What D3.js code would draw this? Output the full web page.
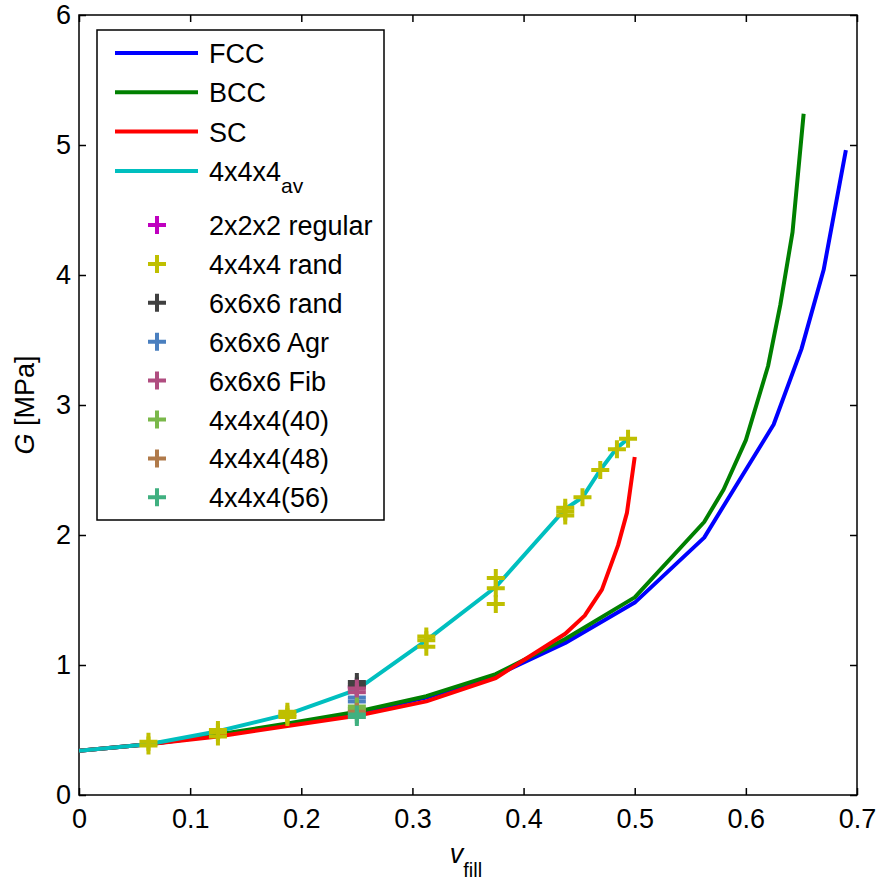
<!DOCTYPE html>
<html><head><meta charset="utf-8">
<script src="https://cdn.jsdelivr.net/npm/d3@7"></script>
<style>body{margin:0;background:#fff}svg{display:block}text{font-family:Arial,"Liberation Sans",sans-serif}</style>
</head><body><svg id="c" width="881" height="881"></svg>
<script>
// ---- data ----
const fccX = [0, 0.0625, 0.125, 0.1875, 0.25, 0.3125, 0.375, 0.4375, 0.5, 0.5625, 0.625, 0.65, 0.67, 0.69];
const fccY = [0.34, 0.39, 0.46, 0.54, 0.63, 0.75, 0.92, 1.17, 1.48, 1.98, 2.85, 3.43, 4.04, 4.96];
const bccX = [0, 0.0625, 0.125, 0.1875, 0.25, 0.3125, 0.375, 0.4375, 0.5, 0.5625, 0.58, 0.6, 0.62, 0.631, 0.642, 0.652];
const bccY = [0.34, 0.39, 0.465, 0.55, 0.64, 0.76, 0.93, 1.2, 1.52, 2.1, 2.35, 2.73, 3.3, 3.77, 4.33, 5.24];
const scX = [0, 0.0625, 0.125, 0.1875, 0.25, 0.3125, 0.375, 0.4375, 0.455, 0.4705, 0.485, 0.493, 0.5];
const scY = [0.34, 0.39, 0.45, 0.53, 0.61, 0.72, 0.9, 1.24, 1.38, 1.58, 1.92, 2.17, 2.6];
const avX = [0, 0.0625, 0.125, 0.1875, 0.25, 0.3125, 0.375, 0.4375, 0.453, 0.469, 0.484, 0.494];
const avY = [0.34, 0.39, 0.49, 0.62, 0.81, 1.19, 1.6, 2.2, 2.29, 2.5, 2.67, 2.74];

const regX = [0.25];
const regY = [0.83];
const randX = [0.0625, 0.0625, 0.125, 0.125, 0.125, 0.1875, 0.1875, 0.1875, 0.3125, 0.3125, 0.3125, 0.375, 0.375, 0.375, 0.4375, 0.4375, 0.4375, 0.453, 0.469, 0.484, 0.494];
const randY = [0.41, 0.38, 0.48, 0.45, 0.5, 0.64, 0.6, 0.62, 1.22, 1.14, 1.19, 1.67, 1.59, 1.47, 2.21, 2.18, 2.15, 2.29, 2.5, 2.66, 2.74];
const r6X = [0.25, 0.25];
const r6Y = [0.87, 0.84];
const agrX = [0.25, 0.25];
const agrY = [0.75, 0.72];
const fibX = [0.25, 0.25];
const fibY = [0.82, 0.79];
const n40X = [0.25, 0.25];
const n40Y = [0.68, 0.66];
const n48X = [0.25];
const n48Y = [0.64];
const n56X = [0.25, 0.25];
const n56Y = [0.62, 0.60];

const xTicks = [0, 0.1, 0.2, 0.3, 0.4, 0.5, 0.6, 0.7];
const yTicks = [0, 1, 2, 3, 4, 5, 6];

const lineSeries = [
  {name: "FCC", x: fccX, y: fccY, color: "#0000ff"},
  {name: "BCC", x: bccX, y: bccY, color: "#008000"},
  {name: "SC", x: scX, y: scY, color: "#ff0000"},
  {name: "4x4x4", sub: "av", x: avX, y: avY, color: "#00bfbf"}
];
const markerSeries = [
  {name: "2x2x2 regular", x: regX, y: regY, color: "#bf00bf"},
  {name: "4x4x4 rand", x: randX, y: randY, color: "#bfbf00"},
  {name: "6x6x6 rand", x: r6X, y: r6Y, color: "#404040"},
  {name: "6x6x6 Agr", x: agrX, y: agrY, color: "#4a7fbf"},
  {name: "6x6x6 Fib", x: fibX, y: fibY, color: "#b04d80"},
  {name: "4x4x4(40)", x: n40X, y: n40Y, color: "#7ab84a"},
  {name: "4x4x4(48)", x: n48X, y: n48Y, color: "#b07a4a"},
  {name: "4x4x4(56)", x: n56X, y: n56Y, color: "#40b080"}
];

// ---- layout ----
const L = 79, R = 857, T = 15, B = 795;
const svg = d3.select("#c");
const x = d3.scaleLinear().domain([0, 0.7]).range([L, R]);
const y = d3.scaleLinear().domain([0, 6]).range([B, T]);
const fs = 27;

// frame & ticks
svg.append("rect").attr("x", L).attr("y", T).attr("width", R - L).attr("height", B - T)
  .attr("fill", "none").attr("stroke", "#000").attr("stroke-width", 1.5);
const tl = 7;
const axB = svg.append("g").attr("transform", `translate(0,${B})`)
  .call(d3.axisBottom(x).tickValues(xTicks).tickSize(-tl).tickPadding(14).tickFormat(d => d === 0 ? "0" : d3.format(".1f")(d)));
const axT = svg.append("g").attr("transform", `translate(0,${T})`)
  .call(d3.axisTop(x).tickValues(xTicks).tickSize(-tl).tickFormat(""));
const axL = svg.append("g").attr("transform", `translate(${L},0)`)
  .call(d3.axisLeft(y).tickValues(yTicks).tickSize(-tl).tickPadding(8).tickFormat(d3.format("d")));
const axR = svg.append("g").attr("transform", `translate(${R},0)`)
  .call(d3.axisRight(y).tickValues(yTicks).tickSize(-tl).tickFormat(""));
[axB, axT, axL, axR].forEach(a => {
  a.select(".domain").remove();
  a.selectAll(".tick line").attr("stroke", "#000").attr("stroke-width", 1.5);
  a.selectAll("text").attr("font-size", fs).attr("fill", "#000").attr("font-family", "Arial, 'Liberation Sans', sans-serif");
});

// curves
const line = d3.line().x(d => x(d[0])).y(d => y(d[1]));
svg.append("clipPath").attr("id", "cp").append("rect")
  .attr("x", L).attr("y", T).attr("width", R - L).attr("height", B - T);
const plot = svg.append("g").attr("clip-path", "url(#cp)");
lineSeries.forEach(s => {
  plot.append("path").datum(s.x.map((v, i) => [v, s.y[i]]))
    .attr("d", line).attr("fill", "none").attr("stroke", s.color).attr("stroke-width", 4)
    .attr("stroke-linejoin", "round");
});

// markers
const ms = 9;
function plus(g, cx, cy, color) {
  g.append("path").attr("d", `M${cx - ms},${cy}H${cx + ms}M${cx},${cy - ms}V${cy + ms}`)
    .attr("stroke", color).attr("stroke-width", 4).attr("fill", "none");
}
markerSeries.forEach(s => {
  s.x.forEach((v, i) => plus(plot, x(v), y(s.y[i]), s.color));
});

// legend
const lg = svg.append("g");
lg.append("rect").attr("x", 97).attr("y", 30).attr("width", 287).attr("height", 490)
  .attr("fill", "#fff").attr("stroke", "#000").attr("stroke-width", 1.5);
lineSeries.forEach((s, i) => {
  const yy = 53 + i * 39.3;
  lg.append("line").attr("x1", 115).attr("x2", 198).attr("y1", yy).attr("y2", yy)
    .attr("stroke", s.color).attr("stroke-width", 4);
  const t = lg.append("text").attr("x", 209).attr("y", yy + 10).attr("font-size", fs).attr("fill", "#000");
  t.append("tspan").text(s.name);
  if (s.sub) t.append("tspan").attr("dy", 12).attr("font-size", 21).text(s.sub);
});
markerSeries.forEach((s, i) => {
  const yy = 225 + i * 38.9;
  plus(lg, 157, yy, s.color);
  lg.append("text").attr("x", 209).attr("y", yy + 10).attr("font-size", fs).attr("fill", "#000").text(s.name);
});

// axis titles
const yt = svg.append("text").attr("transform", `translate(34,${(T + B) / 2}) rotate(-90)`)
  .attr("text-anchor", "middle").attr("font-size", fs).attr("fill", "#000");
yt.append("tspan").attr("font-style", "italic").text("G");
yt.append("tspan").text(" [MPa]");
const xt = svg.append("text").attr("x", 466).attr("y", 863).attr("text-anchor", "middle")
  .attr("font-size", fs).attr("fill", "#000");
xt.append("tspan").attr("font-style", "italic").text("v");
xt.append("tspan").attr("dy", 14).attr("font-size", 20).text("fill");
</script></body></html>
